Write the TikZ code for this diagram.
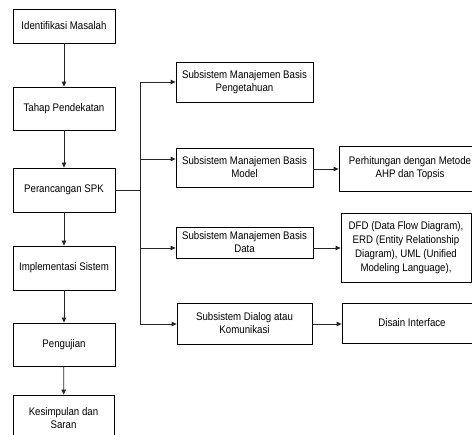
\documentclass[tikz,border=0pt]{standalone}
\usepackage{fontspec}
\setmainfont{Liberation Sans}[FakeStretch=0.88]
\usetikzlibrary{arrows.meta}

\tikzset{
  kotak/.style={draw, line width=0.8pt, rectangle, inner sep=1pt, align=center,
    font=\fontsize{11}{13}\selectfont},
  panah/.style={draw=black!85, line width=0.8pt, -{Triangle[length=5pt,width=4.5pt]}}
}

\begin{document}
\begin{tikzpicture}[x=1pt, y=-1pt]
  \useasboundingbox (0,0) rectangle (472,435);
  \clip (0,0) rectangle (472,435);

  % kolom kiri
  \node[kotak, minimum width=102pt, minimum height=34pt] (A) at (64,26) {Identifikasi Masalah};
  \node[kotak, minimum width=102pt, minimum height=43pt] (B) at (64,108.5) {Tahap Pendekatan};
  \node[kotak, minimum width=102pt, minimum height=44pt] (C) at (64,190) {Perancangan SPK};
  \node[kotak, minimum width=102pt, minimum height=44pt] (D) at (64,268) {Implementasi Sistem};
  \node[kotak, minimum width=102pt, minimum height=43pt] (E) at (64,344.5) {Pengujian};
  \node[kotak, minimum width=101pt, minimum height=46pt] (F) at (63.5,418) {Kesimpulan dan\\Saran};

  \draw[panah] (A) -- (B);
  \draw[panah] (B) -- (C);
  \draw[panah] (C) -- (D);
  \draw[panah] (D) -- (E);
  \draw[panah] (E) -- (F);

  % subsistem
  \node[kotak, minimum width=137pt, minimum height=40pt] (G) at (244.5,82) {Subsistem Manajemen Basis\\Pengetahuan};
  \node[kotak, minimum width=137pt, minimum height=39pt] (H) at (244.5,167.5) {Subsistem Manajemen Basis\\Model};
  \node[kotak, minimum width=137pt, minimum height=31pt] (I) at (244.5,242.5) {Subsistem Manajemen Basis\\Data};
  \node[kotak, minimum width=135pt, minimum height=41pt] (J) at (244.5,323.5) {Subsistem Dialog atau\\Komunikasi};

  % kolom kanan
  \node[kotak, minimum width=142pt, minimum height=45pt] (K) at (410,168.5) {Perhitungan dengan Metode\\AHP dan Topsis};
  \node[kotak, minimum width=130pt, minimum height=69pt, font=\fontsize{11}{14}\selectfont] (L) at (406,247.5)
    {DFD (Data Flow Diagram),\\ERD (Entity Relationship\\Diagram), UML (Unified\\Modeling Language),};
  \node[kotak, minimum width=140pt, minimum height=40pt] (M) at (412,323) {Disain Interface};

  % percabangan
  \coordinate (t0) at (140,190);
  \coordinate (t1) at (140,82);
  \coordinate (t2) at (140,159);
  \coordinate (t3) at (140,248);
  \coordinate (t4) at (140,324);

  \draw[line width=0.8pt, draw=black!85] (C.east |- t0) -- (t0);
  \draw[line width=0.8pt, draw=black!85] (t1) -- (t4);
  \draw[panah] (t1) -- (t1 -| G.west);
  \draw[panah] (t2) -- (t2 -| H.west);
  \draw[panah] (t3) -- (t3 -| I.west);
  \draw[panah] (t4) -- (t4 -| J.west);

  \coordinate (h1) at (313,169);
  \coordinate (h2) at (313,248);
  \draw[panah] (h1) -- (h1 -| K.west);
  \draw[panah] (h2) -- (h2 -| L.west);
  \draw[panah] (J.east |- t4) -- (t4 -| M.west);

\end{tikzpicture}
\end{document}
